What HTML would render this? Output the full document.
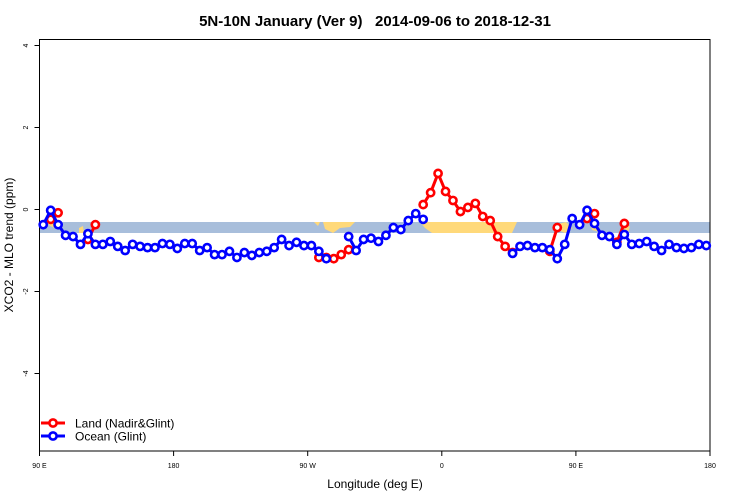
<!DOCTYPE html>
<html><head><meta charset="utf-8">
<style>
html,body{margin:0;padding:0;background:#fff;}
svg{display:block;font-family:"Liberation Sans",Arial,sans-serif;}
</style></head>
<body>
<svg id="chart" width="750" height="500" viewBox="0 0 750 500">
<text x="375" y="26" text-anchor="middle" font-size="15" font-weight="bold" style="white-space:pre">5N-10N January (Ver 9)   2014-09-06 to 2018-12-31</text>
<g id="band">
  <rect x="40" y="222" width="670" height="11" fill="#a8bedb"/>
  <polygon points="47,222 56,222 55,228 50,226" fill="#ffd97a"/>
  <polygon points="79,228 83,226 84,233 79,233" fill="#ffd97a"/>
  <polygon points="314,222 320,222 318,226" fill="#ffd97a"/>
  <polygon points="323,222 355,222 350,227 340,228 333,233 325,229" fill="#ffd97a"/>
  <polygon points="420,222 517,222 512,233 432,233 425,228" fill="#ffd97a"/>
  <polygon points="558,224 566,222 572,228 565,233 558,230" fill="#ffd97a"/>
  <polygon points="590,222 598,222 600,232 592,230" fill="#ffd97a"/>
  <polygon points="622,228 630,226 628,233 622,233" fill="#ffd97a"/>
</g>
<g id="axes"></g>
<g id="series"></g>
<g id="legend">
  <line x1="41" y1="423" x2="65" y2="423" stroke="#ff0000" stroke-width="3"/>
  <circle cx="53" cy="423" r="3.6" fill="#fff" stroke="#ff0000" stroke-width="2.6"/>
  <text x="75" y="427.5" font-size="12">Land (Nadir&amp;Glint)</text>
  <line x1="41" y1="436" x2="65" y2="436" stroke="#0000ff" stroke-width="3"/>
  <circle cx="53" cy="436" r="3.6" fill="#fff" stroke="#0000ff" stroke-width="2.6"/>
  <text x="75" y="440.5" font-size="12">Ocean (Glint)</text>
</g>
<text x="375" y="488" text-anchor="middle" font-size="12">Longitude (deg E)</text>
<text transform="translate(13,245) rotate(-90)" text-anchor="middle" font-size="12">XCO2 - MLO trend (ppm)</text>
</svg>
<script>
const xTickLons = [90, 180, 270, 360, 450, 540];
const xTickLabels = ["90 E", "180", "90 W", "0", "90 E", "180"];
const yTickValues = [4, 2, 0, -2, -4];
const yTickLabels = ["4", "2", "0", "-2", "-4"];
const binStart = 92.5;
const binStep = 5;
const oceanValues = [-0.37,-0.02,-0.37,-0.63,-0.66,-0.85,-0.59,-0.85,-0.85,-0.78,
 -0.9,-1.0,-0.85,-0.9,-0.93,-0.93,-0.83,-0.85,-0.95,-0.83,
 -0.83,-1.0,-0.93,-1.1,-1.1,-1.02,-1.17,-1.05,-1.12,-1.05,
 -1.02,-0.93,-0.73,-0.88,-0.8,-0.88,-0.88,-1.02,-1.2,null,
 null,-0.66,-1.0,-0.73,-0.7,-0.78,-0.63,-0.44,-0.49,-0.27,
 -0.1,-0.24,null,null,null,null,null,null,null,null,
 null,null,null,-1.07,-0.9,-0.88,-0.93,-0.93,-0.98,-1.2,
 -0.85,-0.22,-0.37,-0.02,-0.34,-0.63,-0.66,-0.85,-0.61,-0.85,
 -0.83,-0.78,-0.9,-1.0,-0.85,-0.93,-0.95,-0.93,-0.85,-0.88];
const landValues = [null,-0.24,-0.08,null,null,null,-0.73,-0.37,null,null,
 null,null,null,null,null,null,null,null,null,null,
 null,null,null,null,null,null,null,null,null,null,
 null,null,null,null,null,null,null,-1.17,-1.17,-1.2,
 -1.1,-0.98,null,null,null,null,null,null,null,null,
 null,0.12,0.41,0.88,0.44,0.22,-0.05,0.05,0.15,-0.17,
 -0.27,-0.66,-0.9,-1.05,null,null,null,null,-1.02,-0.44,
 null,null,null,-0.22,-0.1,null,null,-0.8,-0.34,null,
 null,null,null,null,null,null,null,null,null,null];

const NS = "http://www.w3.org/2000/svg";
const X0 = 39.5, X1 = 710, Y0 = 39.5, Y1 = 451;
function xScale(lon){ return X0 + (lon - 90) * (X1 - X0) / 450; }
function yScale(v){ return 209.5 - v * 41; }
function mk(tag, attrs, parent){
  const e = document.createElementNS(NS, tag);
  for (const k in attrs) e.setAttribute(k, attrs[k]);
  parent.appendChild(e); return e;
}
const axes = document.getElementById('axes');
const frame = mk('rect', {x:X0, y:Y0, width:X1-X0, height:Y1-Y0, fill:'none', stroke:'#000', 'stroke-width':1}, axes);


xTickLons.forEach((lon, i) => {
  const x = xScale(lon);
  const t = mk('line', {x1:x, y1:Y1, x2:x, y2:Y1+5, stroke:'#000'}, axes);
  
  
  const l = mk('text', {x:x, y:Y1+17, 'text-anchor':'middle', 'font-size':7}, axes);
  l.textContent = xTickLabels[i];
  
  
});
yTickValues.forEach((v, i) => {
  const y = yScale(v);
  const t = mk('line', {x1:X0-5, y1:y, x2:X0, y2:y, stroke:'#000'}, axes);
  
  
  const l = mk('text', {transform:'translate(28,'+y+') rotate(-90)', 'text-anchor':'middle', 'font-size':7}, axes);
  l.textContent = yTickLabels[i];
  
  
});
const series = document.getElementById('series');
function drawSeries(vals, color, name){
  const g = mk('g', {}, series);
  
  
  let seg = [];
  const flush = () => {
    if (seg.length > 1) {
      const p = mk('polyline', {points: seg.join(' '), fill:'none', stroke:color, 'stroke-width':3, 'stroke-linejoin':'round'}, g);
      
      
    }
    seg = [];
  };
  vals.forEach((v, i) => {
    if (v === null) { flush(); return; }
    seg.push(xScale(binStart + i*binStep) + ',' + yScale(v));
  });
  flush();
  vals.forEach((v, i) => {
    if (v === null) return;
    const c = mk('circle', {cx: xScale(binStart + i*binStep), cy: yScale(v), r:3.6, fill:'#fff', stroke:color, 'stroke-width':2.6}, g);
    
    
  });
}
drawSeries(landValues, '#ff0000', 'land');
drawSeries(oceanValues, '#0000ff', 'ocean');
</script>
</body></html>
